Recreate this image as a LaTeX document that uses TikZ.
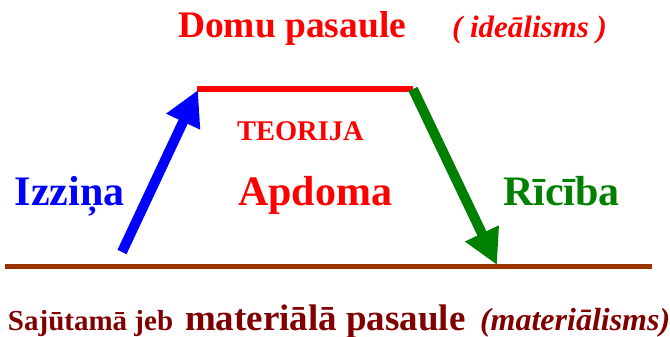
\documentclass[tikz,border=0pt]{standalone}
\usepackage{fontspec}
\setmainfont{Liberation Serif}
\usetikzlibrary{arrows.meta}
\definecolor{cred}{HTML}{FF0000}
\definecolor{cblue}{HTML}{0000FF}
\definecolor{cgreen}{HTML}{008000}
\definecolor{cbrown}{HTML}{993300}
\definecolor{cdark}{HTML}{800000}
\tikzset{
  lbl/.style={inner sep=0pt, outer sep=0pt, anchor=base west, font=\bfseries},
  fs/.style={font=\bfseries\fontsize{#1}{#1}\selectfont},
  fsi/.style={font=\bfseries\itshape\fontsize{#1}{#1}\selectfont},
  bigarrow/.style={line width=10pt, -{Triangle[length=35pt,width=35pt]}}
}
\begin{document}
\begin{tikzpicture}[x=1pt,y=-1pt]
\useasboundingbox (0,0) rectangle (670,337);
% base and top lines
\coordinate (bl) at (5,266);
\coordinate (br) at (652,266);
\coordinate (tl) at (197,89);
\coordinate (tr) at (413,89);
\coordinate (blueTail) at (122,252);
\coordinate (greenTip) at (497,265);
\draw[cbrown, line width=5pt] (bl) -- (br);
\draw[cred, line width=6pt] (tl) -- (tr);
\draw[cblue, bigarrow] (blueTail) -- ([xshift=1pt,yshift=-1pt]tl);
\draw[cgreen, bigarrow] (tr) -- (greenTip);
% texts
\node[lbl, fs=37.5, text=cred] (domu) at (178,38) {Domu pasaule};
\node[lbl, fsi=31, text=cred] (ideal) at (452,38) {( ideālisms )};
\node[lbl, fs=28.5, text=cred] (teor) at (237,140) {TEORIJA};
\node[lbl, fs=42, text=cred] (apd) at (238,205) {Apdoma};
\node[lbl, fs=42, text=cblue] (izz) at (15,205) {Izziņa};
\node[lbl, fs=42, text=cgreen] (ric) at (503,205) {Rīcība};
\node[lbl, fs=29, text=cdark] (saj) at (8,330) {Sajūtamā jeb};
\node[lbl, fs=37, text=cdark] (mat) at (185,330) {materiālā pasaule};
\node[lbl, fsi=32, text=cdark] (mati) at (480,330) {(materiālisms)};
\end{tikzpicture}
\end{document}
